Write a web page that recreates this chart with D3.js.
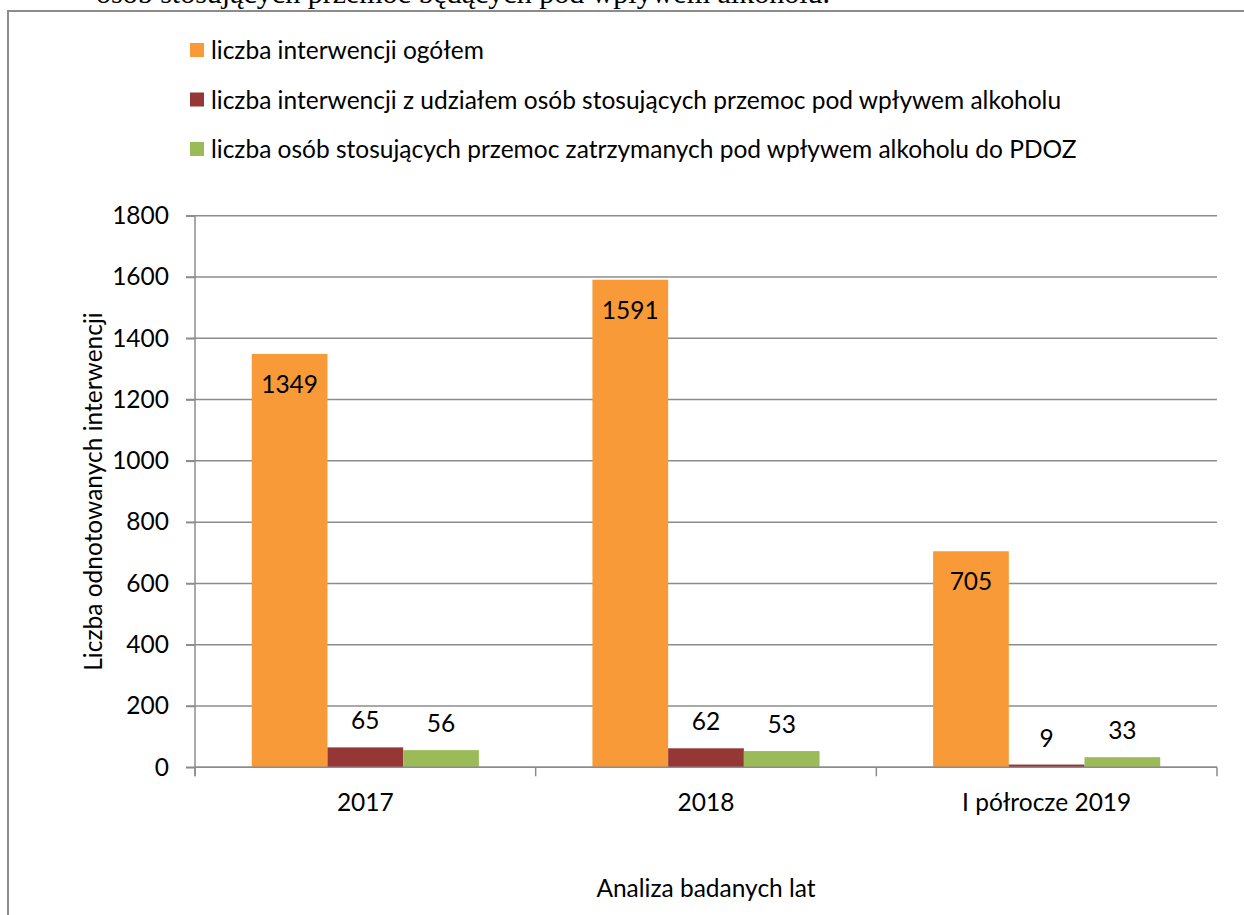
<!DOCTYPE html>
<html><head><meta charset="utf-8">
<script src="https://cdn.jsdelivr.net/npm/d3@7"></script>
<style>
html,body{margin:0;padding:0;background:#fff;}
svg{display:block;}
</style></head>
<body>
<svg id="chart" width="1244" height="915"></svg>
<script>
const categories = ["2017", "2018", "I półrocze 2019"];
const seriesNames = [
  "liczba interwencji ogółem",
  "liczba interwencji z udziałem osób stosujących przemoc pod wpływem alkoholu",
  "liczba osób stosujących przemoc zatrzymanych pod wpływem alkoholu do PDOZ"
];
const totalInterventions = [1349, 1591, 705];
const alcoholInterventions = [65, 62, 9];
const detainedPDOZ = [56, 53, 33];
const yTicks = [0, 200, 400, 600, 800, 1000, 1200, 1400, 1600, 1800];
const colors = ["#F89A38", "#953735", "#9BBB59"];

const series = [totalInterventions, alcoholInterventions, detainedPDOZ];
const font = "Lato, 'Open Sans', sans-serif";
const fs = 24.5;
const svg = d3.select("#chart");

// cut-off caption text above chart
svg.append("text").attr("x", 96).attr("y", 3)
  .attr("font-family", "'Liberation Serif', 'Times New Roman', serif")
  .attr("font-size", 30).attr("fill", "#000")
  .text("osób stosujących przemoc będących pod wpływem alkoholu.");

// chart frame
svg.append("rect").attr("x", 8).attr("y", 11).attr("width", 1300).attr("height", 1000)
  .attr("fill", "#fff").attr("stroke", "#8c8c8c").attr("stroke-width", 2);

const plot = {left: 195, right: 1217, top: 215.7, bottom: 767.3};

const x0 = d3.scaleBand().domain(categories).range([plot.left, plot.right])
  .paddingInner(1/3).paddingOuter(1/6);
const x1 = d3.scaleBand().domain(d3.range(series.length)).range([0, x0.bandwidth()]);
const y = d3.scaleLinear().domain([0, 1800]).range([plot.bottom, plot.top]);

// gridlines
svg.append("g").selectAll("line").data(yTicks).join("line")
  .attr("x1", plot.left - 9).attr("x2", plot.right)
  .attr("y1", d => y(d)).attr("y2", d => y(d))
  .attr("stroke", "#8c8c8c").attr("stroke-width", 1.5);

// y axis
const yAxis = svg.append("g").attr("transform", `translate(${plot.left},0)`)
  .call(d3.axisLeft(y).tickValues(yTicks).tickFormat(d3.format("d")).tickSize(9).tickPadding(17));
yAxis.select(".domain").remove();
yAxis.selectAll("line").attr("stroke", "#8c8c8c").attr("stroke-width", 1.5);
yAxis.selectAll("text").attr("font-family", font).attr("font-size", fs).attr("fill", "#000");
svg.append("line").attr("x1", plot.left).attr("x2", plot.left)
  .attr("y1", plot.top).attr("y2", plot.bottom + 9)
  .attr("stroke", "#8c8c8c").attr("stroke-width", 1.5);

// bars
categories.forEach((c, ci) => {
  series.forEach((s, si) => {
    svg.append("rect")
      .attr("x", x0(c) + x1(si)).attr("width", x1.bandwidth())
      .attr("y", y(s[ci])).attr("height", y(0) - y(s[ci]))
      .attr("fill", colors[si]);
  });
});

// x axis
svg.append("line").attr("x1", plot.left).attr("x2", plot.right)
  .attr("y1", y(0)).attr("y2", y(0)).attr("stroke", "#8c8c8c").attr("stroke-width", 1.5);
const boundaries = categories.map((c) => x0(c) - x0.step() * x0.paddingOuter()).concat([plot.right]);
svg.append("g").selectAll("line").data(boundaries).join("line")
  .attr("x1", d => d).attr("x2", d => d).attr("y1", y(0)).attr("y2", y(0) + 9)
  .attr("stroke", "#8c8c8c").attr("stroke-width", 1.5);
svg.append("g").selectAll("text").data(categories).join("text")
  .attr("x", d => x0(d) + x0.bandwidth() / 2).attr("y", 811)
  .attr("text-anchor", "middle").attr("font-family", font).attr("font-size", fs)
  .attr("fill", "#000").text(d => d);

// data labels
categories.forEach((c, ci) => {
  series.forEach((s, si) => {
    const v = s[ci];
    const cx = x0(c) + x1(si) + x1.bandwidth() / 2;
    const ty = si === 0 ? y(v) + 39 : y(v) - 18;
    svg.append("text").attr("x", cx).attr("y", ty).attr("text-anchor", "middle")
      .attr("font-family", font).attr("font-size", fs).attr("fill", "#000").text(v);
  });
});

// axis titles
svg.append("text").attr("transform", `translate(102,${(plot.top + plot.bottom) / 2}) rotate(-90)`)
  .attr("text-anchor", "middle").attr("font-family", font).attr("font-size", fs)
  .attr("fill", "#000").text("Liczba odnotowanych interwencji");
svg.append("text").attr("x", (plot.left + plot.right) / 2).attr("y", 897)
  .attr("text-anchor", "middle").attr("font-family", font).attr("font-size", fs)
  .attr("fill", "#000").text("Analiza badanych lat");

// legend
const legend = svg.append("g");
seriesNames.forEach((n, i) => {
  const cy = 50 + i * 49.5;
  legend.append("rect").attr("x", 190).attr("y", cy - 7).attr("width", 14).attr("height", 14)
    .attr("fill", colors[i]);
  legend.append("text").attr("x", 211).attr("y", cy + 9)
    .attr("font-family", font).attr("font-size", fs).attr("fill", "#000").text(n);
});
</script>
</body></html>
